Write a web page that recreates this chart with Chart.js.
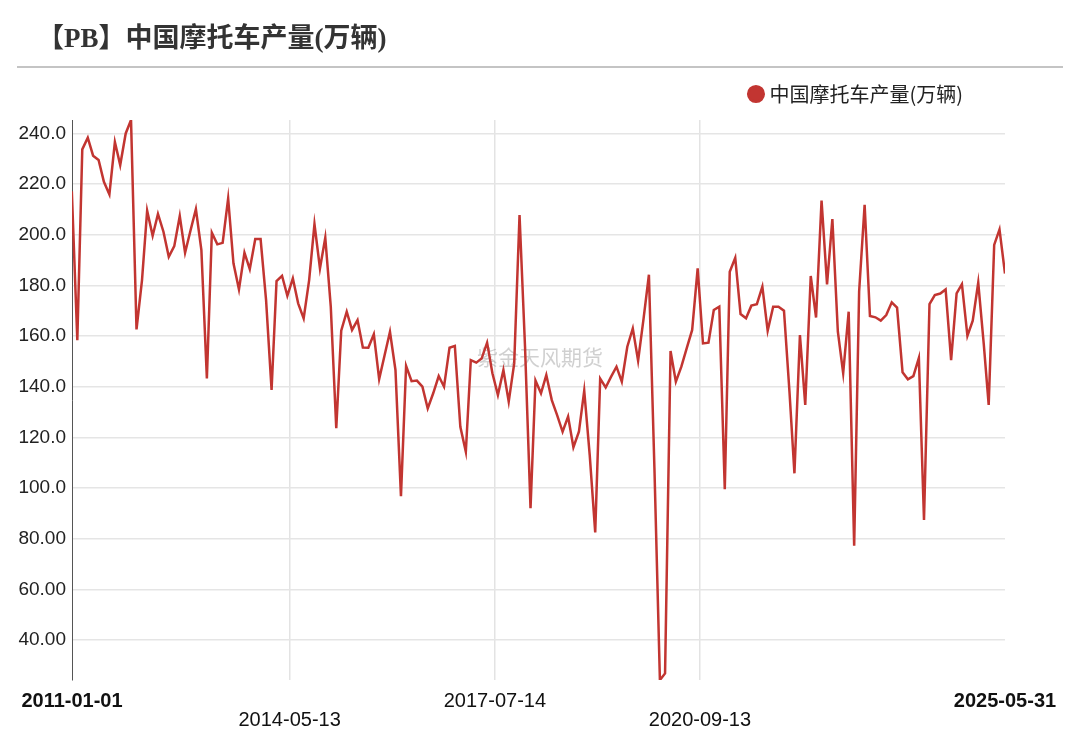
<!DOCTYPE html>
<html>
<head>
<meta charset="utf-8">
<title>中国摩托车产量</title>
<script src="https://cdn.jsdelivr.net/npm/chart.js@4.4.1/dist/chart.umd.min.js"></script>
<style>
  html, body { margin: 0; padding: 0; background: #fff; }
  #wrap { position: relative; width: 1080px; height: 733px; overflow: hidden; }
  #chart { position: absolute; left: 0; top: 0; }
  #title { position: absolute; left: 37px; top: 21px; font: bold 27px "Liberation Serif", "Noto Sans CJK SC", serif; color: #333; line-height: 34px; white-space: nowrap; }
  #rule { position: absolute; left: 17px; top: 66px; width: 1046px; height: 2px; background: #c4c4c4; }
</style>
</head>
<body>
<div id="wrap">
  <canvas id="chart" width="1080" height="733"></canvas>
  <div id="title">【PB】中国摩托车产量(万辆)</div>
  <div id="rule"></div>
</div>
<script>
// monthly values, month-end dates starting 2010-12-31 (first point sits just left of the axis)
const seriesName = '中国摩托车产量(万辆)';
const production = [
    217.2, 158.4, 233.7, 238.3, 231.2, 229.5, 220.9, 215.9, 236.6, 227.5,
    240.0, 245.3, 162.6, 182.1, 209.5, 199.6, 208.2, 201.2, 191.3, 195.5,
    207.4, 192.9, 201.8, 210.1, 193.9, 143.3, 200.8, 196.2, 196.8, 214.3,
    188.7, 178.4, 192.9, 186.4, 198.3, 198.3, 174.2, 138.7, 181.7, 183.8,
    175.9, 182.8, 172.9, 167.0, 182.1, 204.2, 186.7, 198.8, 171.6, 123.6,
    162.1, 169.6, 162.4, 166.3, 155.5, 155.4, 160.7, 143.0, 152.5, 161.7,
    146.6, 96.8, 148.2, 142.2, 142.4, 140.0, 131.4, 137.4, 144.2, 140.0,
    155.4, 156.1, 124.2, 114.3, 150.5, 149.5, 151.1, 157.4, 145.3, 136.7,
    146.6, 134.1, 149.2, 207.8, 155.8, 92.0, 142.4, 137.4, 144.6, 134.7,
    128.8, 122.2, 128.2, 116.1, 122.2, 138.4, 113.0, 82.5, 143.2, 139.7,
    143.9, 147.9, 142.0, 155.8, 163.0, 150.3, 167.0, 184.2, 108.0, 24.2,
    26.8, 154.1, 142.0, 147.9, 155.1, 162.4, 186.7, 157.1, 157.4, 170.3,
    171.6, 99.5, 185.4, 190.9, 168.7, 167.0, 172.0, 172.6, 179.5, 162.1,
    171.6, 171.6, 170.0, 138.0, 105.8, 160.4, 132.8, 183.7, 167.3, 213.5,
    180.4, 206.2, 161.7, 145.3, 169.6, 77.2, 177.6, 211.8, 167.9, 167.4,
    166.1, 168.3, 173.3, 171.2, 145.7, 142.9, 144.2, 151.4, 87.4, 172.6,
    176.2, 176.8, 178.4, 150.5, 176.8, 180.5, 160.1, 166.1, 181.1, 157.0,
    132.8, 196.0, 202.1, 184.7
];
const tickDates = ['2011-01-01', '2014-05-13', '2017-07-14', '2020-09-13', '2025-05-31'];
const yTicks = [40, 60, 80, 100, 120, 140, 160, 180, 200, 220, 240];

const monthEnds = production.map((v, i) => Date.UTC(2011, i, 0));
const latin = '"Liberation Sans", Arial, sans-serif';
const cjk = '"Noto Sans CJK SC", sans-serif';

// faint brand text in the middle of the plot
const watermark = {
    id: 'watermark',
    beforeDatasetsDraw(chart) {
        const { ctx } = chart;
        ctx.save();
        ctx.font = '21px ' + cjk;
        ctx.fillStyle = 'rgba(150,150,150,0.45)';
        ctx.textAlign = 'center';
        ctx.textBaseline = 'middle';
        ctx.fillText('紫金天风期货', 540, 357);
        ctx.restore();
    }
};

// nudge legend a bit left / up from where the layout puts it
const legendShift = {
    id: 'legendShift',
    afterLayout(chart) {
        const lg = chart.legend;
        lg.right -= 32;
        lg.top -= 6;
        lg.bottom -= 6;
    }
};

new Chart(document.getElementById('chart'), {
    type: 'line',
    data: {
        datasets: [{
            label: seriesName,
            data: production.map((v, i) => ({ x: monthEnds[i], y: v })),
            borderColor: '#c23531',
            backgroundColor: '#c23531',
            borderWidth: 2.5,
            pointRadius: 0,
            tension: 0
        }]
    },
    options: {
        responsive: false,
        animation: false,
        layout: { padding: { top: 80, right: 75, left: 0, bottom: 0 } },
        plugins: {
            legend: {
                position: 'top',
                align: 'end',
                labels: {
                    usePointStyle: true,
                    pointStyle: 'circle',
                    boxWidth: 7,
                    boxHeight: 11,
                    color: '#222',
                    font: { size: 20, family: cjk }
                }
            },
            tooltip: { enabled: false }
        },
        scales: {
            x: {
                type: 'linear',
                min: Date.parse(tickDates[0]),
                max: Date.parse(tickDates[tickDates.length - 1]),
                afterBuildTicks: s => { s.ticks = tickDates.map(d => ({ value: Date.parse(d) })); },
                afterFit: s => { s.height = 53; },
                border: { display: false },
                grid: {
                    drawTicks: false,
                    lineWidth: 1.5,
                    color: c => (c.index > 0 && c.index < tickDates.length - 1) ? '#e3e3e3' : 'rgba(0,0,0,0)'
                },
                ticks: {
                    autoSkip: false,
                    maxRotation: 0,
                    padding: 12,
                    color: '#111',
                    font: c => ({
                        family: latin,
                        size: 20,
                        lineHeight: 0.95,
                        weight: (c.index === 0 || c.index === tickDates.length - 1) ? 'bold' : 'normal'
                    }),
                    callback: (v, i) => {
                        const s = new Date(v).toISOString().slice(0, 10);
                        return i % 2 ? ['', s] : s;
                    }
                }
            },
            y: {
                min: Math.min(...production),
                max: Math.max(...production),
                afterBuildTicks: s => { s.ticks = yTicks.map(v => ({ value: v })); },
                afterFit: s => { s.width = 72; },
                border: { display: true, color: '#555', width: 1 },
                grid: { drawTicks: false, color: '#e5e5e5', lineWidth: 1.5 },
                ticks: {
                    padding: 6,
                    color: '#222',
                    font: { size: 19, family: latin },
                    callback: v => v.toPrecision(4)
                }
            }
        }
    },
    plugins: [watermark, legendShift]
});
</script>
</body>
</html>
